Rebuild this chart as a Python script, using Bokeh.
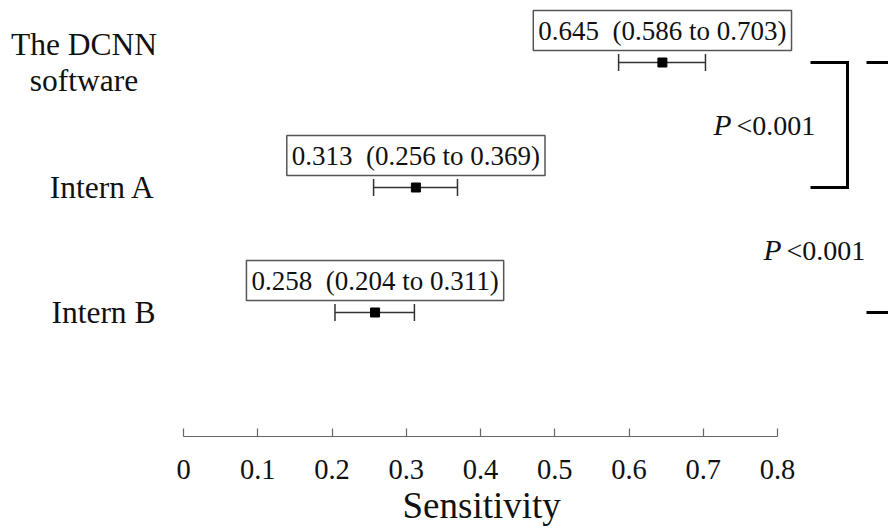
from bokeh.plotting import figure
from bokeh.models import Range1d, FixedTicker, Whisker, TeeHead, ColumnDataSource, Title
from bokeh.core.properties import value
from bokeh.embed import file_html
from bokeh.resources import INLINE

# ---- data ----
groups = ["The DCNN\nsoftware", "Intern A", "Intern B"]
sensitivity = [0.645, 0.313, 0.258]
ci_lower = [0.586, 0.256, 0.204]
ci_upper = [0.703, 0.369, 0.311]
rows = [3, 2, 1]
tick_values = [0, 0.1, 0.2, 0.3, 0.4, 0.5, 0.6, 0.7, 0.8]
tick_labels = ["0", "0.1", "0.2", "0.3", "0.4", "0.5", "0.6", "0.7", "0.8"]
x_title = "Sensitivity"
p_texts = ["<0.001", "<0.001"]
comparisons = [(3, 2), (3, 1)]

# ---- layout helpers (pixel -> data, layout only) ----
X0_PX, PX_PER_UNIT = 183.0, 742.5
def dx(px):
    return (px - X0_PX) / PX_PER_UNIT
def dy(py):
    return 1 + (312.0 - py) / 125.0

SERIF = value("Liberation Serif")
NB = "\u00a0"

box_labels = [f"{s:.3f}{NB}{NB}({l:.3f} to {u:.3f})" for s, l, u in zip(sensitivity, ci_lower, ci_upper)]
src = ColumnDataSource(dict(group=groups, sens=sensitivity, lo=ci_lower, hi=ci_upper,
                            row=rows, label=box_labels))

p = figure(frame_width=888, frame_height=436, output_backend="svg", toolbar_location=None,
           x_range=Range1d(dx(0), dx(888)), y_range=Range1d(dy(436), dy(0)),
           y_axis_location=None, min_border=0, min_border_bottom=0,
           outline_line_color=None)
p.xgrid.visible = False
p.ygrid.visible = False

# axis
ax = p.xaxis[0]
ax.ticker = FixedTicker(ticks=tick_values)
ax.bounds = (tick_values[0], tick_values[-1])
ax.major_label_overrides = {t: l for t, l in zip(tick_values, tick_labels)}
ax.major_label_text_font = "Liberation Serif"
ax.major_label_text_font_size = "28.5px"
ax.major_label_text_color = "#111111"
ax.major_label_standoff = 23
ax.axis_line_color = "#666666"
ax.axis_line_width = 1.2
ax.major_tick_line_color = "#666666"
ax.major_tick_line_width = 1.2
ax.major_tick_in = 8
ax.major_tick_out = 0
ax.minor_tick_line_color = None

# axis title below the axis, positioned under the axis span
p.add_layout(Title(text=x_title, align="left", offset=402, standoff=2,
                   text_font="Liberation Serif", text_font_size="37px",
                   text_font_style="normal", text_color="#111111"), "below")

# whiskers (confidence intervals)
head = dict(size=17, line_color="#333333", line_width=1.5)
p.add_layout(Whisker(source=src, base="row", lower="lo", upper="hi", dimension="width",
                     line_color="#333333", line_width=1.5,
                     lower_head=TeeHead(**head), upper_head=TeeHead(**head)))
p.scatter("sens", "row", source=src, marker="square", size=9, color="black")

# boxed estimate labels
p.text("sens", "row", text="label", source=src, y_offset=-32,
       text_align="center", text_baseline="middle",
       text_font=SERIF, text_font_size="27px", text_color="#111111",
       border_line_color="#555555", border_line_width=1.5, padding=5)

# group labels
p.text(x=[dx(83.5)], y=[rows[0]], text=[groups[0]], text_align="center", text_baseline="middle",
       text_font=SERIF, text_font_size="31.5px", text_color="#111111", text_line_height=1.02)
p.text(x=[dx(155)] * 2, y=rows[1:], text=groups[1:], text_align="right", text_baseline="middle",
       text_font=SERIF, text_font_size="31.5px", text_color="#111111")

# comparison brackets
bx = [(dx(810), dx(847)), (dx(866), dx(930))]
for (a, b), (x0, x1) in zip(comparisons, bx):
    p.line([x0, x1, x1, x0], [a, a, b, b], line_color="black", line_width=3, line_join="miter")

# p-value texts
p_y = [(comparisons[0][0] + comparisons[0][1]) / 2, 1.5]
p.text(x=[dx(731), dx(781)], y=p_y, text=["P", "P"], text_align="right", text_baseline="middle",
       text_font=SERIF, text_font_style="italic", text_font_size="29.5px", text_color="#111111")
p.text(x=[dx(736), dx(786)], y=p_y, text=p_texts, text_align="left", text_baseline="middle",
       text_font=SERIF, text_font_size="28px", text_color="#111111")

open("out.html", "w").write(file_html(p, INLINE))
